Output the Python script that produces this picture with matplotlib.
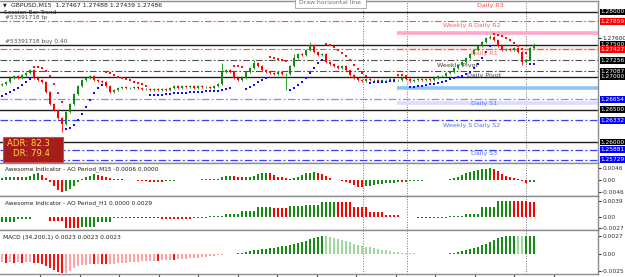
import numpy as np
import matplotlib.pyplot as plt
from matplotlib.patches import Rectangle

# GBPUSD M15 chart (one entry per 15 min bar)
first_open = 1.26877
closes = [
    1.26892, 1.26923, 1.26985, 1.27015, 1.26985, 1.27031, 1.27062, 1.27108, 1.26985, 1.26954,
    1.26923, 1.26769, 1.26585, 1.26492, 1.26369, 1.26277, 1.26462, 1.26585, 1.26738, 1.26862,
    1.26954, 1.26985, 1.27015, 1.26954, 1.26938, 1.26923, 1.26862, 1.26769, 1.26800, 1.26831,
    1.26846, 1.26831, 1.26831, 1.26846, 1.26831, 1.26815, 1.26815, 1.26800, 1.26815, 1.26800,
    1.26815, 1.26800, 1.26831, 1.26862, 1.26831, 1.26862, 1.26846, 1.26862, 1.26831, 1.26862,
    1.26846, 1.26846, 1.26831, 1.26862, 1.26892, 1.27077, 1.27108, 1.27077, 1.26985, 1.26954,
    1.26985, 1.27077, 1.27138, 1.27215, 1.27169, 1.27108, 1.27077, 1.27062, 1.27046, 1.27077,
    1.27046, 1.27046, 1.27169, 1.27292, 1.27354, 1.27338, 1.27415, 1.27492, 1.27385, 1.27338,
    1.27354, 1.27231, 1.27200, 1.27169, 1.27138, 1.27169, 1.27108, 1.27031, 1.26985, 1.26954,
    1.26938, 1.26969, 1.26954, 1.26954, 1.26938, 1.26954, 1.26954, 1.26969, 1.26954, 1.26954,
    1.26985, 1.26969, 1.26938, 1.26954, 1.26969, 1.26954, 1.26969, 1.26954, 1.26985, 1.27015,
    1.27015, 1.27062, 1.27077, 1.27138, 1.27185, 1.27231, 1.27292, 1.27354, 1.27415, 1.27477,
    1.27538, 1.27600, 1.27615, 1.27569, 1.27477, 1.27415, 1.27431, 1.27415, 1.27446, 1.27385,
    1.27231, 1.27262, 1.27446, 1.27486]
wick_high = {55: 1.27215, 63: 1.27262, 73: 1.27354, 77: 1.27538, 122: 1.27646, 133: 1.27523}
wick_low = {15: 1.26154, 54: 1.26846, 71: 1.26800, 130: 1.27185}

# parabolic SAR dots
sar = [
    1.26708, 1.26738, 1.26769, 1.26800, 1.26831, 1.26877, 1.26923, 1.26969, 1.27154, 1.27154,
    1.27138, 1.27092, 1.27015, 1.26892, 1.26754, 1.26615, 1.26200, 1.26215, 1.26262, 1.26338,
    1.26431, 1.26538, 1.26646, 1.26754, 1.26831, 1.26877, 1.27077, 1.27062, 1.27031, 1.27000,
    1.26985, 1.26969, 1.26954, 1.26923, 1.26908, 1.26892, 1.26862, 1.26723, 1.26723, 1.26723,
    1.26723, 1.26738, 1.26738, 1.26754, 1.26754, 1.26754, 1.26754, 1.26769, 1.26769, 1.26769,
    1.26769, 1.26785, 1.26785, 1.26785, 1.26785, 1.26800, 1.26815, 1.26831, 1.27169, 1.27169,
    1.27154, 1.26815, 1.26846, 1.26877, 1.26923, 1.26954, 1.26985, 1.27308, 1.27292, 1.27277,
    1.27262, 1.27246, 1.26800, 1.26831, 1.26877, 1.26923, 1.26985, 1.27062, 1.27138, 1.27215,
    1.27262, 1.27508, 1.27492, 1.27462, 1.27415, 1.27369, 1.27323, 1.27262, 1.27185, 1.27123,
    1.27062, 1.27015, 1.26908, 1.26923, 1.26923, 1.26923, 1.26923, 1.26938, 1.26938, 1.27031,
    1.27031, 1.27015, 1.26846, 1.26846, 1.26862, 1.26862, 1.26877, 1.26892, 1.26892, 1.26908,
    1.26923, 1.26938, 1.26969, 1.26985, 1.27000, 1.27015, 1.27046, 1.27077, 1.27138, 1.27200,
    1.27292, 1.27385, 1.27477, 1.27662, 1.27646, 1.27631, 1.27600, 1.27569, 1.27523, 1.27477,
    1.27431, 1.27369, 1.27200, 1.27200]

ao_m15 = [
    0.00077, 0.00096, 0.00115, 0.00123, 0.00115, 0.00123, 0.00134, 0.00172, 0.00211, 0.00249,
    0.00192, 0.00077, -0.00077, -0.00230, -0.00383, -0.00460, -0.00421, -0.00345, -0.00230, -0.00077,
    0.00038, 0.00115, 0.00172, 0.00211, 0.00192, 0.00153, 0.00115, 0.00084, 0.00057, 0.00038,
    0.00023, 0.00011, -0.00004, -0.00019, -0.00038, -0.00050, -0.00057, -0.00065, -0.00069, -0.00061,
    -0.00069, -0.00057, -0.00046, -0.00031, -0.00019, -0.00008, 0.00008, 0.00011, 0.00019, 0.00015,
    0.00023, 0.00031, 0.00027, 0.00038, 0.00057, 0.00115, 0.00153, 0.00172, 0.00153, 0.00115,
    0.00096, 0.00107, 0.00134, 0.00172, 0.00211, 0.00249, 0.00268, 0.00249, 0.00192, 0.00134,
    0.00096, 0.00077, 0.00057, 0.00077, 0.00134, 0.00192, 0.00249, 0.00287, 0.00306, 0.00287,
    0.00230, 0.00153, 0.00077, 0.00019, -0.00019, -0.00046, -0.00077, -0.00134, -0.00192, -0.00249,
    -0.00260, -0.00237, -0.00211, -0.00192, -0.00172, -0.00153, -0.00134, -0.00115, -0.00096, -0.00084,
    -0.00088, -0.00069, -0.00057, -0.00046, -0.00038, -0.00031, -0.00019, -0.00011, -0.00015, -0.00019,
    -0.00008, 0.00011, 0.00038, 0.00077, 0.00134, 0.00192, 0.00249, 0.00306, 0.00345, 0.00383,
    0.00421, 0.00440, 0.00460, 0.00421, 0.00326, 0.00230, 0.00172, 0.00115, 0.00077, 0.00038,
    -0.00057, -0.00096, -0.00080, -0.00060]

# H1 awesome oscillator, one value per hour (4 bars each)
ao_h1_hourly = [
    -0.00125, -0.00050, -0.00013, -0.00100, -0.00270, -0.00250, -0.00125, -0.00020, -0.00030, -0.00040,
    -0.00045, -0.00050, -0.00020, 0.00020, 0.00075, 0.00138, 0.00238, 0.00213, 0.00275, 0.00300,
    0.00375, 0.00363, 0.00250, 0.00125, 0.00050, -0.00013, -0.00025, -0.00020, 0.00013, 0.00075,
    0.00250, 0.00390, 0.00385, 0.00370]

macd = [
    -0.00120, -0.00128, -0.00120, -0.00128, -0.00125, -0.00128, -0.00123, -0.00120, -0.00128, -0.00135,
    -0.00150, -0.00180, -0.00210, -0.00240, -0.00270, -0.00285, -0.00278, -0.00248, -0.00210, -0.00180,
    -0.00165, -0.00158, -0.00150, -0.00153, -0.00147, -0.00150, -0.00155, -0.00150, -0.00143, -0.00140,
    -0.00135, -0.00128, -0.00123, -0.00120, -0.00114, -0.00110, -0.00105, -0.00102, -0.00098, -0.00099,
    -0.00093, -0.00090, -0.00086, -0.00087, -0.00081, -0.00075, -0.00072, -0.00065, -0.00060, -0.00054,
    -0.00048, -0.00042, -0.00035, -0.00027, -0.00020, -0.00012, -0.00006, -0.00003, 0.00005, 0.00008,
    0.00015, 0.00023, 0.00038, 0.00053, 0.00060, 0.00068, 0.00078, 0.00087, 0.00095, 0.00102,
    0.00113, 0.00120, 0.00132, 0.00147, 0.00165, 0.00180, 0.00195, 0.00218, 0.00233, 0.00255,
    0.00270, 0.00263, 0.00255, 0.00240, 0.00225, 0.00207, 0.00188, 0.00173, 0.00155, 0.00135,
    0.00120, 0.00108, 0.00098, 0.00087, 0.00075, 0.00065, 0.00054, 0.00045, 0.00036, 0.00027,
    0.00021, 0.00015, 0.00012, 0.00009, 0.00006, 0.00005, 0.00003, 0.00002, -0.00003, -0.00005,
    -0.00002, 0.00006, 0.00012, 0.00020, 0.00030, 0.00042, 0.00054, 0.00068, 0.00083, 0.00105,
    0.00128, 0.00150, 0.00180, 0.00210, 0.00233, 0.00248, 0.00263, 0.00270, 0.00273, 0.00270,
    0.00264, 0.00267, 0.00270, 0.00272]

# horizontal levels (full width) and their price-scale tags
levels = [1.28000, 1.27859, 1.27500, 1.27427, 1.27256, 1.27087, 1.27000,
          1.26654, 1.26500, 1.26332, 1.26000, 1.25881, 1.25729]
level_kind = ['black', 'red', 'black', 'red', 'grey', 'grey', 'black',
              'lblue', 'black', 'blue', 'black', 'blue', 'blue']
# pivot bands drawn only over the current week
bands = [1.27682, 1.27427, 1.26835, 1.26595]
band_colors = ['#ffa8c8', '#ffe4e4', '#8cc4f4', '#dcdcff']

GREEN = '#148c14'
RED = '#ff0000'
W, H = 625, 277

fig = plt.figure(figsize=(W / 100, H / 100), dpi=100)


def axes_box(top, bottom):
    return [0.0, 1 - bottom / H, 598 / W, (bottom - top) / H]


def bx(px):
    # pixel column -> bar index (4 px per bar)
    return (px - 2) / 4.0


def ftext(px, py, s, **kw):
    fig.text(px / W, 1 - py / H, s, **kw)


ax = fig.add_axes(axes_box(1, 163))
ax_ao = fig.add_axes(axes_box(163, 196))
ax_h1 = fig.add_axes(axes_box(196, 230))
ax_macd = fig.add_axes(axes_box(230, 274))
panels = [ax, ax_ao, ax_h1, ax_macd]

n = len(closes)
x = np.arange(n)
c = np.array(closes)
o = np.array([first_open] + closes[:-1])

for a in panels:
    a.set_xlim(-0.5, bx(598))
    a.set_xticks([])
    for s in a.spines.values():
        s.set_color('#8c8c8c')
        s.set_linewidth(1.0)
    a.spines['left'].set_visible(False)
    for px in (363, 407, 526):
        a.axvline(bx(px), color='#707070', lw=0.7, ls=(0, (1, 1.6)), zorder=1)

# ---------- main price panel ----------
ax.set_ylim(1.28 - 151 / 6500, 1.28 + 11 / 6500)
dashdot = (0, (6, 2, 1.5, 2))
styles = {
    'black': dict(color='#202020', lw=1.0, ls='-'),
    'red': dict(color='#ff5050', lw=0.8, ls=dashdot),
    'grey': dict(color='#505050', lw=0.8, ls=dashdot),
    'lblue': dict(color='#8888ff', lw=0.9, ls=dashdot),
    'blue': dict(color='#3c3cff', lw=0.9, ls=dashdot),
}
for lv, k in zip(levels, level_kind):
    ax.axhline(lv, zorder=2, **styles[k])
for lv, col in zip(bands, band_colors):
    ax.plot([bx(397), bx(598)], [lv, lv], color=col, lw=2.6, zorder=1.5,
            solid_capstyle='butt')

hi = np.maximum(o, c) + 0.0001
lo = np.minimum(o, c) - 0.0001
for i, v in wick_high.items():
    hi[i] = max(hi[i], v)
for i, v in wick_low.items():
    lo[i] = min(lo[i], v)
cols = np.where(c >= o, GREEN, RED)
ax.vlines(x, lo, hi, colors=cols, lw=0.6, zorder=4)
ax.bar(x, np.maximum(np.abs(c - o), 0.00006), bottom=np.minimum(o, c), width=0.55,
       color=cols, linewidth=0, zorder=5)

sar_arr = np.array(sar)
sar_cols = np.where(sar_arr > c, '#ff1010', '#1010ff')
ax.scatter(x, sar_arr, s=2.2, marker='s', c=sar_cols, linewidths=0, zorder=6)

ax.yaxis.tick_right()
ax.set_yticks([1.276])
ax.set_yticklabels(['1.27600'])
ax.tick_params(axis='y', labelsize=4.2, length=2, pad=1, colors='#202020')

tag_colors = {'black': '#000000', 'grey': '#000000', 'red': '#ff0000',
              'lblue': '#0000ff', 'blue': '#0000ff'}
for lv, k in zip(levels, level_kind):
    ax.text(1.004, lv, '%.5f' % lv, transform=ax.get_yaxis_transform(), fontsize=4.2,
            color='white', va='center', ha='left', clip_on=False, zorder=10,
            bbox=dict(boxstyle='square,pad=0.15', fc=tag_colors[k], ec='none'))

# pivot names
txt = dict(fontsize=4.6, ha='center', va='center', zorder=3)
ftext(490, 5, 'Daily R3', color='#ff4848', **txt)
ftext(458, 26, 'Weekly R', color='#ff5a5a', **txt)
ftext(487, 26, 'Daily R2', color='#ff5a5a', **txt)
ftext(484, 54, 'Daily R1', color='#ff7070', **txt)
ftext(458, 65, 'Weekly Pivot', color='#404040', **txt)
ftext(484, 76, 'Daily Pivot', color='#404040', **txt)
ftext(484, 104, 'Daily S1', color='#5070ff', **txt)
ftext(458, 125, 'Weekly S', color='#5070ff', **txt)
ftext(487, 125, 'Daily S2', color='#5070ff', **txt)
ftext(484, 153, 'Daily S3', color='#5070ff', **txt)

ftext(3, 5, '\u25bc', fontsize=3.5, color='#202020', va='center')
ftext(11, 5, 'GBPUSD,M15  1.27467 1.27488 1.27439 1.27486', fontsize=4.4,
      color='#202020', va='center')
ftext(4, 13, 'Session Bar Trend', fontsize=4.2, color='#303030', va='center')
ftext(5, 18, '#53391718 tp', fontsize=4.2, color='#505050', va='center')
ftext(5, 41, '#53391718 buy 0.40', fontsize=4.2, color='#505050', va='center')

# tooltip box and ADR box
fig.patches.append(Rectangle((295 / W, 1 - 8 / H), 71 / W, 9 / H, transform=fig.transFigure,
                             fc='white', ec='#a0a0a0', lw=0.6, zorder=20))
ftext(330, 3, 'Draw horizontal line', fontsize=4.4, color='#707070', ha='center',
      va='center', zorder=21)
fig.patches.append(Rectangle((3 / W, 1 - 162 / H), 60 / W, 25 / H, transform=fig.transFigure,
                             fc='#a51d1d', ec='#c85050', lw=0.8, zorder=20))
ftext(7, 143, 'ADR: 82.3', fontsize=6.2, color='#ffd83a', va='center', zorder=21)
ftext(13, 154, 'DR: 79.4', fontsize=6.2, color='#ffd83a', va='center', zorder=21)

# ---------- oscillators ----------
def osc_colors(v):
    v = np.asarray(v)
    up = np.r_[True, v[1:] > v[:-1]]
    return np.where(up, GREEN, RED)


ax_ao.set_ylim(-16 * 0.000383, 17 * 0.000383)
ax_ao.bar(x, ao_m15, width=0.6, color=osc_colors(ao_m15), linewidth=0, zorder=3)

h1_vals = np.repeat(ao_h1_hourly, 4)[:n]
h1_cols = np.repeat(osc_colors(ao_h1_hourly), 4)[:n]
ax_h1.set_ylim(-13.3 * 0.00025, 20.7 * 0.00025)
ax_h1.bar(x, h1_vals, width=0.6, color=h1_cols, linewidth=0, zorder=3)

m = np.array(macd)
rising = np.r_[True, m[1:] > m[:-1]]
m_cols = np.where(m >= 0, np.where(rising, '#158c15', '#9ed89e'),
                  np.where(rising, '#ffa4a4', '#ff1010'))
ax_macd.set_ylim(-20 * 0.00015, 24 * 0.00015)
ax_macd.bar(x, m, width=0.6, color=m_cols, linewidth=0, zorder=3)

for a, tks, labs in [(ax_ao, [0.0046, 0, -0.0046], ['0.0046', '0.00', '-0.0046']),
                     (ax_h1, [0.0039, 0, -0.0027], ['0.0039', '0.00', '-0.0027']),
                     (ax_macd, [0.0027, 0, -0.0025], ['0.0027', '0.00', '-0.0025'])]:
    a.yaxis.tick_right()
    a.set_yticks(tks)
    a.set_yticklabels(labs)
    a.tick_params(axis='y', labelsize=4.2, length=2, pad=1, colors='#303030')

ftext(5, 169, 'Awesome Indicator - AO Period_M15 -0.0006 0.0000', fontsize=4.2, color='#202020', va='center')
ftext(5, 203, 'Awesome Indicator - AO Period_H1 0.0000 0.0029', fontsize=4.2, color='#202020', va='center')
ftext(3, 237, 'MACD (34,200,1) 0.0023 0.0023 0.0023', fontsize=4.2, color='#202020', va='center')

ax_macd.set_xticks(bx(np.arange(40, 560, 39.5)))
ax_macd.set_xticklabels([])
ax_macd.tick_params(axis='x', length=3, direction='out', colors='#505050')

fig.savefig('out.png', dpi=100, facecolor='white')
